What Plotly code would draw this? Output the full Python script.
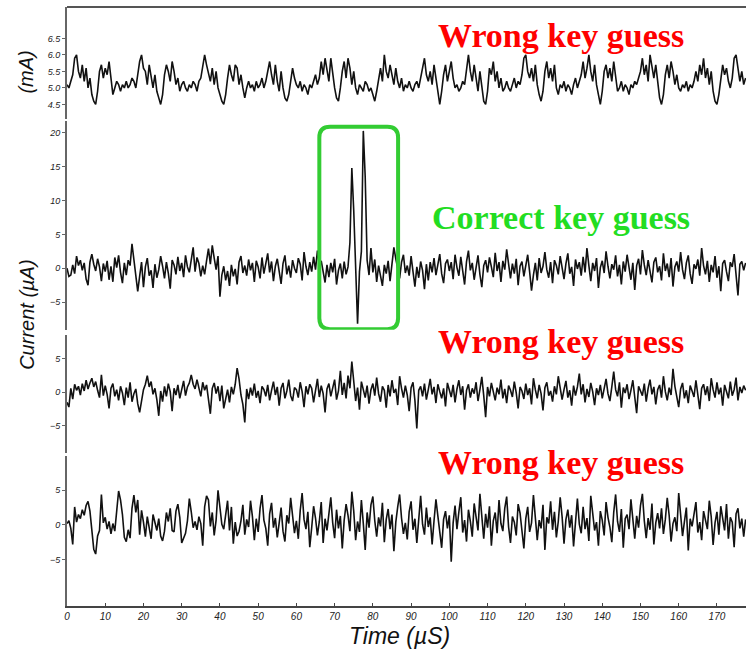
import plotly.graph_objects as go

# ---------------- data ----------------
time_step_us = 0.5

trace_wrong1_mA = [
    5.1,5.0,5.2,5.4,5.9,6.0,5.5,5.3,5.7,5.2,5.6,5.0,5.3,4.8,4.6,4.5,4.9,5.5,5.7,5.3,5.6,5.4,5.8,5.2,4.8,5.0,5.2,5.1,4.9,5.1,5.0,5.2,5.0,5.1,5.3,
    5.2,5.0,5.4,5.8,6.0,5.6,5.5,5.1,5.7,5.3,5.0,5.4,4.9,4.7,4.5,4.8,5.4,5.7,5.5,5.2,5.8,5.5,5.1,5.3,4.9,5.1,5.2,5.0,4.9,5.1,5.0,5.2,5.1,4.9,5.2,
    5.3,5.6,6.0,5.7,5.4,5.2,5.6,5.1,5.5,5.0,4.8,4.6,4.5,4.8,5.3,5.7,5.4,5.2,5.7,5.6,5.1,5.4,5.0,4.7,5.0,5.2,5.0,5.1,4.9,5.2,5.0,5.1,5.3,5.0,5.2,
    5.5,5.8,5.4,5.1,5.7,5.2,4.9,5.5,5.0,4.7,4.6,4.8,5.2,5.6,5.3,5.1,5.0,5.2,4.9,5.1,5.0,4.8,5.1,5.0,5.2,5.4,5.1,5.3,5.8,5.4,5.9,5.5,5.2,5.9,5.4,
    5.0,4.7,4.6,5.0,5.5,5.8,5.3,5.9,5.6,5.1,5.5,5.0,4.8,5.1,5.0,4.9,5.2,5.1,4.9,5.0,4.8,4.6,4.9,5.3,5.6,5.2,6.0,5.5,5.3,5.7,5.4,5.1,5.6,5.2,5.0,
    5.3,4.9,5.1,5.0,5.2,5.0,4.9,5.1,5.2,5.0,5.3,5.6,5.9,5.4,5.2,5.5,5.1,5.7,5.3,4.8,4.5,4.9,5.4,5.7,5.2,5.5,5.8,5.3,5.0,5.1,4.9,5.0,5.2,5.1,5.6,
    6.0,5.5,5.2,5.7,5.3,4.9,5.5,5.0,4.6,4.5,4.9,5.6,5.4,5.8,5.2,5.5,5.0,5.3,4.9,5.0,5.2,5.0,4.9,5.1,5.3,5.0,5.2,5.1,5.4,5.9,6.0,5.5,5.3,5.6,5.2,
    5.7,5.1,4.8,4.6,4.9,5.5,5.8,5.3,5.6,5.2,5.7,5.0,4.8,5.1,5.0,5.2,4.9,5.1,5.0,4.8,5.1,5.3,5.0,5.2,5.4,5.8,5.3,5.6,6.0,5.5,5.2,5.7,5.1,4.8,4.5,
    4.9,5.5,5.7,5.3,5.6,5.2,5.8,5.4,4.9,5.0,5.2,4.9,5.1,5.0,4.8,5.1,5.0,5.2,5.1,5.3,5.5,5.9,5.4,5.7,5.2,6.0,5.6,5.3,5.7,5.1,4.7,4.5,4.8,5.4,5.7,
    5.3,5.8,5.5,5.1,5.4,5.0,4.9,5.1,5.0,5.2,4.9,5.1,5.0,5.2,5.5,5.2,5.7,5.4,5.9,5.3,5.6,5.1,5.5,4.9,4.6,4.5,4.8,5.3,5.7,5.4,5.6,5.2,5.0,5.3,5.9,
    6.0,5.6,5.2,5.5,5.1,5.3,
]

trace_correct_uA = [
    0.0,-1.2,-1.0,0.5,-0.8,1.8,0.4,1.2,-0.3,0.8,-1.6,-2.5,0.9,2.1,0.6,-0.4,1.4,0.2,-1.9,0.7,
    -0.5,1.1,-1.7,0.3,-2.0,1.6,0.1,1.9,-0.6,-2.2,0.8,-1.0,1.2,0.4,3.6,1.0,-0.8,-3.4,-1.2,0.9,
    -2.8,0.2,1.5,-1.1,-0.3,-2.9,0.6,-1.4,-0.2,1.8,0.3,-1.5,0.9,-0.7,-3.0,1.2,0.5,-0.9,1.7,-0.4,
    0.8,-1.3,1.9,0.2,-0.6,1.4,3.1,-0.5,1.6,0.7,-1.2,0.4,-0.9,1.1,2.9,0.6,3.4,1.5,-0.2,1.8,
    -4.2,-1.0,0.3,-1.8,-0.4,-2.6,0.5,-1.2,-0.1,-2.4,0.9,1.8,-0.7,0.4,-1.1,1.3,-0.3,0.8,-2.0,1.1,
    0.2,-1.5,1.6,-0.8,0.5,2.2,-0.6,1.0,-1.9,0.3,1.4,-0.2,-2.3,0.7,1.9,-0.9,0.4,-1.4,1.2,0.0,
    -0.7,1.5,0.6,-1.8,2.4,0.3,-1.0,0.9,-0.5,1.7,-0.2,2.6,0.4,1.1,-0.8,-2.1,0.5,-1.3,0.8,-0.6,
    1.4,-2.4,-0.3,0.7,-1.5,1.0,-0.9,0.2,3.8,14.8,8.5,-1.8,-8.2,-0.5,2.5,20.3,13.5,1.2,-1.0,3.0,
    -0.6,1.3,-2.0,0.4,-1.2,-2.6,0.5,-0.8,1.1,-1.9,0.6,3.1,1.4,-0.3,-1.5,0.9,2.0,-0.7,0.4,-1.1,
    1.8,-0.5,-2.7,0.2,-1.4,1.0,-0.3,-3.1,0.6,-1.8,0.9,-0.6,1.5,-1.0,0.4,2.1,-0.8,-2.2,0.7,1.3,
    -0.4,0.9,-1.6,2.0,0.1,-1.1,1.7,-0.5,-2.4,1.0,2.6,-0.3,0.8,-1.7,0.5,1.9,-0.9,-2.8,0.4,1.2,
    -0.6,1.6,0.2,-1.3,2.3,-0.4,0.9,-2.0,1.1,-0.2,2.8,0.5,-1.5,0.7,-0.8,1.4,-2.5,0.3,1.0,-1.2,
    0.6,2.0,-0.5,-3.3,-1.0,0.8,-1.8,1.5,-0.7,0.3,2.4,-0.2,-1.4,0.9,-2.2,1.2,0.4,-0.9,1.8,-0.3,
    -1.6,0.7,2.2,-0.8,0.2,-2.6,1.3,-0.1,0.9,-1.1,1.7,-0.6,3.0,0.4,-1.9,0.8,-0.4,1.5,-2.9,0.1,
    1.1,-0.7,2.5,0.3,-1.5,0.6,-0.2,1.9,-1.2,0.5,-2.4,1.0,-0.5,2.0,0.2,-1.7,0.8,-3.2,0.4,1.4,
    -0.9,2.7,0.5,-1.0,1.2,-0.3,-2.1,0.9,1.6,-0.6,0.3,-1.8,2.2,-0.4,0.7,-1.3,1.5,-2.7,0.2,1.0,
    -0.5,2.4,-0.2,-1.6,0.8,1.9,-0.8,-2.3,0.6,-0.1,1.3,-1.1,3.0,0.4,-0.9,1.1,-2.0,0.5,-0.6,1.8,
    -1.4,0.3,-3.4,0.7,1.2,-0.5,-1.9,0.9,0.2,2.1,-0.8,-4.0,0.6,1.0,-0.3,0.8,
]

trace_wrong2_uA = [
    -1.5,-2.2,0.6,-1.0,1.2,0.3,0.9,-0.4,1.3,0.2,1.8,0.5,1.4,2.1,0.8,1.6,0.3,-0.8,2.6,-0.5,
    1.0,-0.3,-2.4,0.6,1.3,-0.6,0.4,-1.2,0.9,-0.1,-1.9,0.7,-0.8,1.5,-1.4,-0.2,0.5,-1.7,-3.0,-0.9,
    0.4,1.2,2.5,0.8,1.6,-0.3,0.6,-1.1,-3.5,0.2,-1.4,0.9,-0.6,1.3,0.1,-2.8,0.6,-0.4,1.1,-0.9,
    0.3,1.7,-0.5,0.8,1.4,2.6,1.2,0.5,1.9,0.7,-0.6,1.5,0.3,1.1,-0.8,-3.2,0.6,1.4,-0.2,0.9,
    -1.3,1.0,-2.4,-0.7,0.4,-1.5,0.8,-0.3,1.2,3.6,2.0,-0.4,-1.8,-4.5,0.5,-1.0,0.7,-0.5,1.3,-0.8,
    0.2,-1.6,0.9,0.4,-0.6,1.1,-1.2,0.3,1.6,-0.4,0.8,-2.0,0.6,1.4,-0.9,0.2,1.9,-0.5,-1.3,0.7,
    0.4,-0.8,1.5,0.1,-2.2,0.9,-0.3,1.2,0.6,-1.5,0.3,2.0,-0.7,1.0,-0.2,-3.0,0.5,1.3,-0.6,0.8,
    1.9,-1.1,0.2,3.2,-0.4,1.4,-0.9,2.5,0.6,4.6,1.1,-1.3,0.7,-2.6,1.6,0.2,-0.8,1.0,-1.7,0.4,
    1.3,-0.5,2.2,-0.2,-1.4,0.9,0.3,-2.3,1.1,-0.6,1.8,-0.1,0.5,-1.9,2.4,0.6,-0.8,1.0,-0.4,-2.8,
    0.7,1.5,-1.2,-5.4,0.3,0.9,-0.6,1.3,-1.1,0.4,2.0,-0.3,0.8,-1.6,1.2,0.1,-0.9,0.6,-2.1,1.4,
    0.2,-0.7,1.1,-1.5,0.5,1.8,-0.4,0.9,-2.6,0.3,1.2,-0.8,0.6,-0.2,1.5,-1.3,0.4,2.3,-0.5,-3.7,
    0.8,-0.6,1.4,0.2,-1.2,0.7,-0.3,1.9,-0.9,0.5,-1.6,1.0,0.3,-0.7,1.6,-0.1,-2.4,0.8,0.2,-1.0,
    1.3,-0.4,0.6,-1.8,2.1,0.4,-0.9,1.1,-0.2,-2.7,0.7,1.5,-0.5,0.2,-1.4,0.9,-0.3,2.4,0.6,-1.1,
    0.4,1.7,-0.8,0.3,-2.0,1.0,-0.5,0.8,2.8,-0.3,1.2,-1.5,0.5,-0.7,1.4,0.1,-1.9,0.6,-0.4,1.1,
    -0.9,0.5,2.0,-0.2,-1.3,0.8,3.1,0.4,-0.6,1.5,-2.3,0.7,-0.1,1.2,-1.0,0.3,1.8,-0.7,-3.1,0.9,
    0.2,-0.5,1.3,-1.4,0.6,1.9,-0.3,0.8,-1.8,0.4,1.1,-0.8,2.4,0.1,-1.2,0.7,-0.4,3.5,0.9,-0.6,
    -2.2,0.5,1.4,-0.9,0.3,-1.6,1.0,0.2,-0.7,1.8,-0.2,-2.5,0.6,1.2,-0.4,0.9,-1.3,2.1,0.4,-0.8,
    1.5,-0.3,0.7,-2.0,1.1,0.2,-0.9,1.6,-0.5,0.4,2.2,-1.2,0.8,-0.1,1.0,0.3,
]

trace_wrong3_uA = [
    0.2,0.6,-0.5,-2.8,2.6,0.4,1.5,0.9,2.2,1.4,2.8,3.4,2.0,-1.2,-3.5,-4.2,-1.6,-0.8,4.4,0.3,
    1.1,-0.6,0.5,-1.3,0.2,-0.9,2.3,4.9,3.6,1.5,-1.8,-2.4,-0.7,-1.9,2.4,4.3,1.8,3.6,-1.4,2.1,
    0.4,-1.7,1.2,-0.3,-2.0,1.5,0.3,-0.8,0.9,-1.6,-2.3,-0.9,1.8,0.5,2.4,-0.8,-1.0,2.0,3.0,1.1,
    -2.6,-1.8,-1.2,0.6,3.8,1.9,-0.4,0.5,-0.7,1.2,0.2,-3.0,2.6,4.2,3.6,-0.2,1.8,-1.5,0.7,5.0,
    2.8,0.1,-0.6,1.7,3.5,-0.8,2.6,-2.7,0.4,-1.6,-0.9,0.6,2.9,-1.4,0.8,-0.3,3.5,1.2,-2.2,0.9,
    -1.0,2.4,4.3,0.7,-0.5,-3.0,1.6,3.2,-0.4,1.0,-1.8,0.3,2.5,-0.9,-2.4,1.4,0.2,3.9,1.6,-1.2,
    0.6,-2.0,2.1,4.6,0.8,-0.6,1.9,-3.2,-0.4,2.7,1.0,-1.5,0.5,3.3,-2.6,0.9,-0.8,1.7,4.0,0.3,
    -1.9,2.2,-0.5,1.3,-3.4,0.7,3.0,1.4,-0.9,4.8,2.0,-2.2,0.5,-1.0,3.6,0.2,-3.6,1.8,-0.4,2.9,
    4.1,0.6,-1.7,1.1,-0.2,3.2,-2.5,0.8,2.3,-0.6,1.5,-3.8,0.4,2.6,4.4,1.0,-1.3,0.3,-2.1,1.9,
    3.4,-0.7,0.9,-2.6,1.6,4.2,0.1,-1.4,2.5,-0.3,1.1,-2.8,0.6,3.7,1.3,-0.9,-3.3,0.8,2.0,-0.5,
    1.4,-5.3,0.3,2.8,-0.6,1.9,4.0,-1.1,0.7,-2.4,2.2,0.5,-1.7,3.1,1.0,-0.8,4.5,0.9,-2.0,1.6,
    -0.4,2.7,-3.0,0.6,1.8,-1.2,3.6,0.2,-0.9,2.4,4.1,-0.3,-2.6,1.2,0.4,-1.5,3.0,1.7,-0.6,-3.4,
    0.9,2.6,-1.0,0.3,4.3,1.5,-2.2,0.7,-0.5,2.9,-3.6,1.1,0.2,3.4,-0.7,1.9,-1.8,0.5,4.0,1.2,
    -2.7,0.8,2.2,-0.4,1.4,-3.1,0.6,3.8,0.1,-1.2,2.6,-0.6,1.0,-2.3,4.2,1.6,-0.8,0.4,-3.0,2.0,
    0.7,-1.5,3.3,1.1,-0.3,-2.5,1.8,4.4,0.5,-1.0,2.3,-3.3,0.9,1.5,-0.6,3.7,0.2,-2.0,1.3,-0.4,
    2.8,4.5,0.6,-1.9,1.0,-0.7,3.1,-2.8,0.3,1.7,-0.5,2.4,-1.3,0.8,3.9,1.4,-2.4,0.2,1.1,-0.9,
    4.6,1.8,-1.6,0.5,2.5,-3.7,0.9,-0.2,1.5,3.3,-1.1,0.4,-2.2,2.0,0.7,-0.6,3.5,1.2,-2.9,0.3,
    1.9,-1.4,2.7,0.6,-0.8,3.0,-2.0,1.1,0.4,-3.2,1.6,2.4,-0.5,0.9,-1.7,0.8,
]

x_tick_values = list(range(0, 171, 10))
y1_tick_values = [4.5, 5.0, 5.5, 6.0, 6.5]
y1_tick_labels = ["4.5", "5.0", "5.5", "6.0", "6.5"]
y2_tick_values = [-5, 0, 5, 10, 15, 20]
y34_tick_values = [-5, 0, 5]

panel_labels = ["Wrong key guess", "Correct key guess", "Wrong key guess", "Wrong key guess"]
label_colors = ["#ff0000", "#22dd22", "#ff0000", "#ff0000"]

# highlight box around the leak (time range in µs, current range in µA)
box_time = (66.0, 86.6)
box_current = (-9.0, 20.9)

# ---------------- figure ----------------
fig = go.Figure()
series = [trace_wrong1_mA, trace_correct_uA, trace_wrong2_uA, trace_wrong3_uA]
yrefs = ["y", "y2", "y3", "y4"]
for vals, yr in zip(series, yrefs):
    xs = [i * time_step_us for i in range(len(vals))]
    fig.add_trace(go.Scatter(x=xs, y=vals, mode="lines", yaxis=yr,
                             line=dict(color="#111111", width=1.6),
                             showlegend=False, hoverinfo="skip"))

tickfont = dict(family="Liberation Sans", size=9, color="#222", style="italic")
common_y = dict(showgrid=False, zeroline=False, showline=True, linecolor="#666",
                linewidth=2, ticks="outside", ticklen=3, tickcolor="#666",
                tickfont=tickfont, anchor="x", fixedrange=True)

fig.update_layout(
    width=746, height=654,
    margin=dict(l=67, r=0, t=7, b=48),
    paper_bgcolor="white", plot_bgcolor="white",
    xaxis=dict(range=[0, 177.6], tickvals=x_tick_values, showgrid=False, zeroline=False,
               showline=True, linecolor="#444", linewidth=2, ticks="inside",
               ticklen=3, tickcolor="#444", tickfont=dict(family="Liberation Sans", size=10,
               color="#222", style="italic"), anchor="y4"),
    yaxis=dict(domain=[0.813, 1.0], range=[4.06, 7.45], tickvals=y1_tick_values,
               ticktext=y1_tick_labels, **common_y),
    yaxis2=dict(domain=[0.461, 0.809], range=[-9.1, 21.7], tickvals=y2_tick_values, **common_y),
    yaxis3=dict(domain=[0.256, 0.453], range=[-9.0, 8.6], tickvals=y34_tick_values, **common_y),
    yaxis4=dict(domain=[0.0, 0.251], range=[-11.7, 10.0], tickvals=y34_tick_values, **common_y),
)

# top frame line
fig.add_shape(type="line", xref="paper", yref="paper", x0=0, x1=1, y0=1, y1=1,
              line=dict(color="#555", width=2))

# rounded highlight box
x0, x1 = box_time
y0, y1 = box_current
rx, ry = 2.8, 1.6
path = (f"M {x0+rx},{y1} L {x1-rx},{y1} Q {x1},{y1} {x1},{y1-ry} "
        f"L {x1},{y0+ry} Q {x1},{y0} {x1-rx},{y0} L {x0+rx},{y0} "
        f"Q {x0},{y0} {x0},{y0+ry} L {x0},{y1-ry} Q {x0},{y1} {x0+rx},{y1} Z")
fig.add_shape(type="path", path=path, xref="x", yref="y2",
              line=dict(color="#33cc33", width=4))

# key-guess labels
label_y = [0.953, 0.648, 0.441, 0.240]
for txt, col, yy in zip(panel_labels, label_colors, label_y):
    fig.add_annotation(text=f"<b>{txt}</b>", x=0.7275, y=yy, xref="paper", yref="paper",
                       showarrow=False, xanchor="center", yanchor="middle",
                       font=dict(family="Liberation Serif", size=34, color=col))

axis_font = dict(family="Liberation Sans", size=20, color="#111", style="italic")
fig.add_annotation(text="(mA)", x=-0.060, y=0.891, xref="paper", yref="paper",
                   xanchor="center", yanchor="middle",
                   showarrow=False, textangle=-90, font=axis_font)
fig.add_annotation(text="Current (µA)", x=-0.059, y=0.486, xref="paper", yref="paper",
                   xanchor="center", yanchor="middle",
                   showarrow=False, textangle=-90, font=axis_font)
fig.add_annotation(text="Time (µS)", x=0.490, y=-0.050, xref="paper", yref="paper",
                   xanchor="center", yanchor="middle",
                   showarrow=False, font=dict(family="Liberation Sans", size=23,
                   color="#111", style="italic"))

fig.write_html("out.html")
